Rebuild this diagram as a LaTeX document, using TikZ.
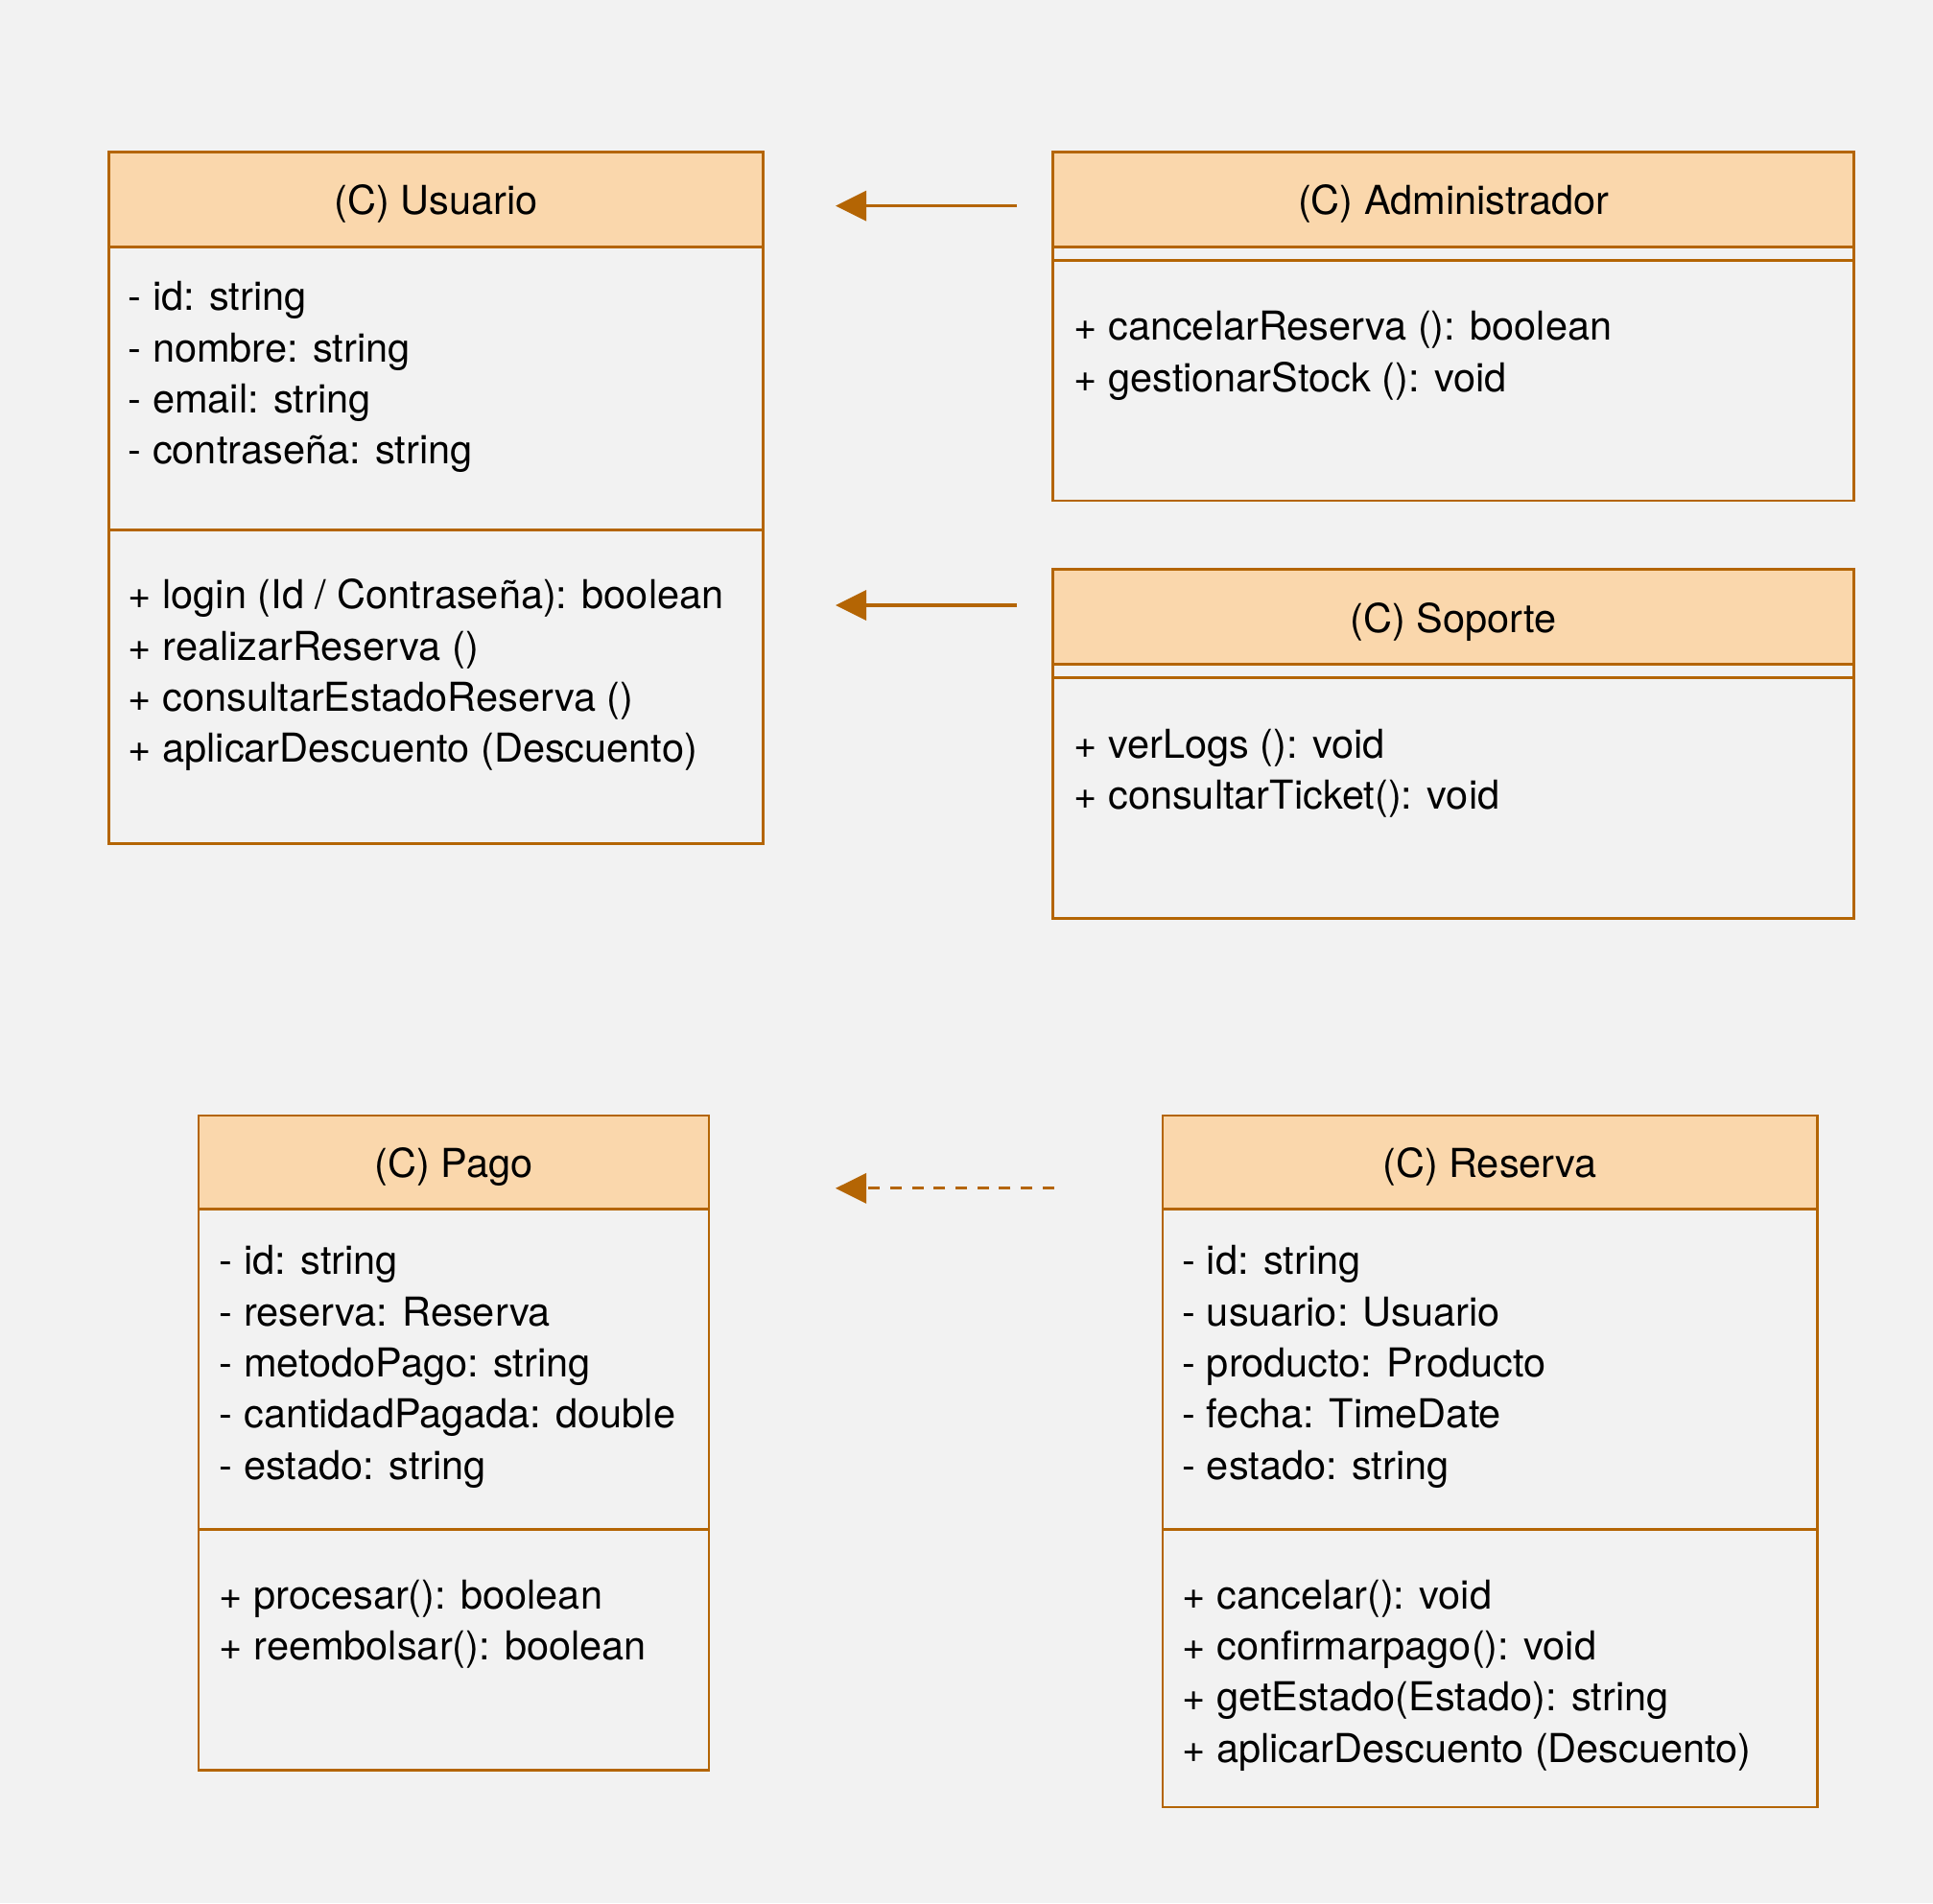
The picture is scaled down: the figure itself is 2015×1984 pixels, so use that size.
\documentclass[tikz,border=0pt]{standalone}
\usepackage{fontspec}
\setmainfont{TeX Gyre Heros}
\usetikzlibrary{arrows.meta}
\definecolor{strokec}{HTML}{B46504}
\definecolor{hfill}{HTML}{FAD7AC}
\definecolor{bgc}{HTML}{F2F2F2}
\begin{document}
\begin{tikzpicture}[x=1pt,y=-1pt,
  box/.style={draw=strokec, line width=2.8pt, rectangle, inner sep=0pt, outer sep=0pt, anchor=north west},
  hdr/.style={box, fill=hfill, font=\fontsize{41.5}{48}\selectfont, text height=32pt, text depth=0pt},
  txt/.style={inner sep=0pt, anchor=base west, font=\fontsize{41.5}{48}\selectfont},
  arr/.style={draw=strokec, line width=3.3pt, -{Triangle[length=32pt,width=31pt]}},
  darr/.style={arr, dash pattern=on 12pt off 10.7pt}]
\fill[bgc] (0,0) rectangle (2015,1984);
\useasboundingbox (0,0) rectangle (2015,1984);

% Usuario
\node[hdr, minimum width=682.4pt, minimum height=99pt] (usuario) at (113.1,158.1) {(C) Usuario};
\node[box, minimum width=682.4pt, minimum height=295.6pt] (usuarioA) at (usuario.south west) {};
\node[box, minimum width=682.4pt, minimum height=326.4pt] (usuarioO) at (usuarioA.south west) {};
\foreach \t [count=\i] in {{- id: string},{- nombre: string},{- email: string},{- contraseña: string}}
  \node[txt] (ua\i) at (133.6,{323.9+(\i-1)*53.3}) {\t};
\foreach \t [count=\i] in {{+ login (Id / Contraseña): boolean},{+ realizarReserva ()},{+ consultarEstadoReserva ()},{+ aplicarDescuento (Descuento)}}
  \node[txt] (uo\i) at (133.6,{634.9+(\i-1)*53.3}) {\t};

% Administrador
\node[hdr, minimum width=835.3pt, minimum height=99pt] (admin) at (1097.5,158.1) {(C) Administrador};
\node[box, minimum width=835.3pt, minimum height=14pt] (adminA) at (admin.south west) {};
\node[box, minimum width=835.3pt, minimum height=250.8pt] (adminO) at (adminA.south west) {};
\foreach \t [count=\i] in {{+ cancelarReserva (): boolean},{+ gestionarStock (): void}}
  \node[txt] (ao\i) at (1119.3,{354.8+(\i-1)*53.3}) {\t};

% Soporte
\node[hdr, minimum width=835.3pt, minimum height=99pt] (soporte) at (1097.5,593.7) {(C) Soporte};
\node[box, minimum width=835.3pt, minimum height=14pt] (soporteA) at (soporte.south west) {};
\node[box, minimum width=835.3pt, minimum height=250.7pt] (soporteO) at (soporteA.south west) {};
\foreach \t [count=\i] in {{+ verLogs (): void},{+ consultarTicket(): void}}
  \node[txt] (so\i) at (1119.3,{790.4+(\i-1)*53.3}) {\t};

% Pago
\node[hdr, minimum width=532pt, minimum height=97.7pt] (pago) at (206.9,1163) {(C) Pago};
\node[box, minimum width=532pt, minimum height=334.1pt] (pagoA) at (pago.south west) {};
\node[box, minimum width=532pt, minimum height=250.6pt] (pagoO) at (pagoA.south west) {};
\foreach \t [count=\i] in {{- id: string},{- reserva: Reserva},{- metodoPago: string},{- cantidadPagada: double},{- estado: string}}
  \node[txt] (pa\i) at (228.7,{1328.9+(\i-1)*53.3}) {\t};
\foreach \t [count=\i] in {{+ procesar(): boolean},{+ reembolsar(): boolean}}
  \node[txt] (po\i) at (228.7,{1677.1+(\i-1)*53.3}) {\t};

% Reserva
\node[hdr, minimum width=682.3pt, minimum height=97.7pt] (reserva) at (1211.9,1163) {(C) Reserva};
\node[box, minimum width=682.3pt, minimum height=334.1pt] (reservaA) at (reserva.south west) {};
\node[box, minimum width=682.3pt, minimum height=289.2pt] (reservaO) at (reservaA.south west) {};
\foreach \t [count=\i] in {{- id: string},{- usuario: Usuario},{- producto: Producto},{- fecha: TimeDate},{- estado: string}}
  \node[txt] (ra\i) at (1232.4,{1328.9+(\i-1)*53.3}) {\t};
\foreach \t [count=\i] in {{+ cancelar(): void},{+ confirmarpago(): void},{+ getEstado(Estado): string},{+ aplicarDescuento (Descuento)}}
  \node[txt] (ro\i) at (1232.4,{1677.1+(\i-1)*53.3}) {\t};

% connectors
\coordinate (c1s) at (1060,214.6);
\coordinate (c1e) at (871,214.6);
\coordinate (c2s) at (1060,631);
\coordinate (c2e) at (871,631);
\coordinate (c3s) at (1098.8,1238.8);
\coordinate (c3e) at (871,1238.8);
\draw[arr] (c1s) -- (c1e);
\draw[arr] (c2s) -- (c2e);
\draw[darr] (c3s) -- (c3e);
\end{tikzpicture}
\end{document}
